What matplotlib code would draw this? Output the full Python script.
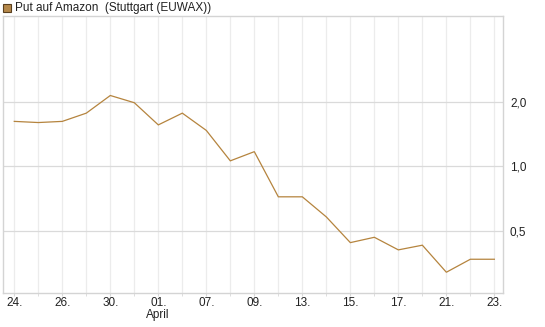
import matplotlib
matplotlib.use('Agg')
import matplotlib.pyplot as plt
from matplotlib.ticker import FixedLocator, NullFormatter, NullLocator
import matplotlib.patches as patches

plt.rcParams['font.family'] = ['Liberation Sans', 'DejaVu Sans']

# closing prices, one per trading day
prices = [1.62, 1.60, 1.62, 1.77, 2.14, 1.98, 1.56, 1.77, 1.47, 1.06, 1.17,
          0.72, 0.72, 0.58, 0.44, 0.466, 0.407, 0.428, 0.32, 0.368, 0.368]
tick_labels = ['24.', '26.', '30.', '01.', '07.', '09.', '13.', '15.', '17.', '21.', '23.']
y_ticks = [0.5, 1.0, 2.0]
y_labels = ['0,5', '1,0', '2,0']
title = 'Put auf Amazon  (Stuttgart (EUWAX))'

W, H = 545, 327
fig = plt.figure(figsize=(W / 100, H / 100), dpi=100)
ax = fig.add_axes([3 / W, (H - 293) / H, 500 / W, 277 / H])

x = list(range(len(prices)))
ax.plot(x, prices, color='#b5843e', lw=0.9, solid_joinstyle='miter')

ax.set_yscale('log')
ax.set_ylim(0.256, 5.03)
ax.set_xlim(-0.47, 20.36)

# grid
for xi in x:
    ax.axvline(xi, color='#ececec', lw=0.9, zorder=0)
for yt in y_ticks:
    ax.axhline(yt, color='#dadada', lw=0.9, zorder=0)

ax.yaxis.set_major_locator(FixedLocator(y_ticks))
ax.yaxis.set_minor_locator(NullLocator())
ax.set_yticklabels(y_labels)
ax.yaxis.tick_right()
ax.tick_params(axis='y', length=0, pad=5, labelsize=8.5, labelcolor='#222222')

ax.set_xticks(x[::2])
ax.set_xticklabels(tick_labels)
ax.set_xticks(x, minor=True)
ax.xaxis.set_minor_formatter(NullFormatter())
ax.tick_params(axis='x', which='both', length=2, color='#d8d8d8', pad=1,
               labelsize=8.5, labelcolor='#222222')

for s in ax.spines.values():
    s.set_color('#d4d4d4')
    s.set_linewidth(1.0)

fig.text(158 / W, 1 - 315 / H, 'April', ha='center', va='center',
         fontsize=8.5, color='#222222')

# legend box
fig.patches.append(patches.Rectangle((3 / W, 1 - 12 / H), 8 / W, 8 / H,
                                     transform=fig.transFigure,
                                     facecolor='#b5884a', edgecolor='#5a4020', lw=0.8))
fig.text(15 / W, 1 - 7.5 / H, title, ha='left', va='center',
         fontsize=8.5, color='#222222')

fig.savefig('out.png', dpi=100)
